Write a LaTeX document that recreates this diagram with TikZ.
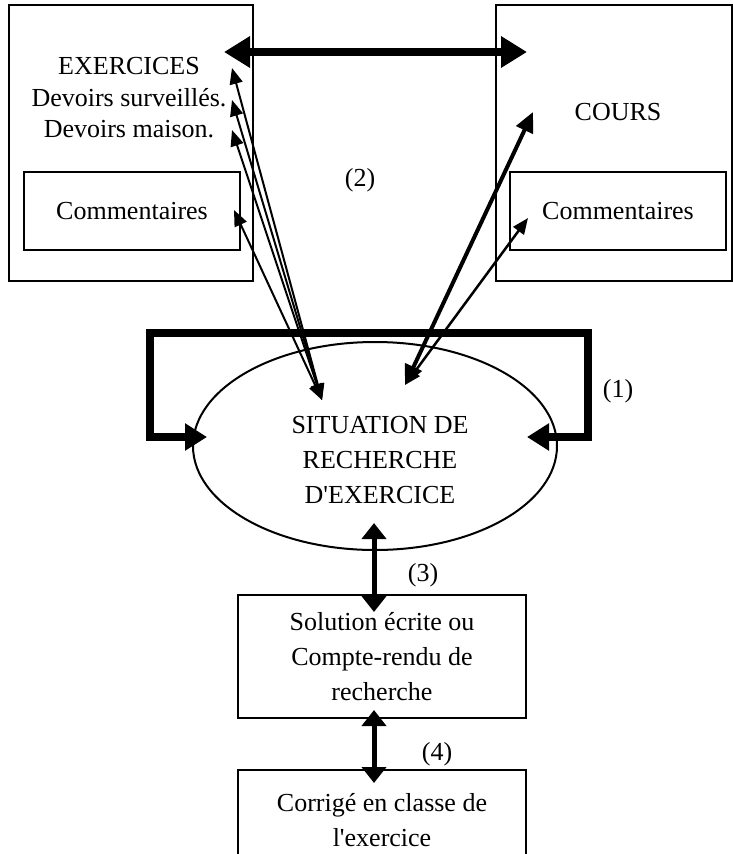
\documentclass[tikz,border=0pt]{standalone}
\usepackage{fontspec}
\setmainfont{Liberation Serif}[Ligatures=TeXOff]
\usetikzlibrary{arrows.meta,shapes.geometric}

\tikzset{
  box/.style={draw, line width=1.6pt, inner sep=0pt},
  txt/.style={font={\fontsize{26}{35}\selectfont}, inner sep=0pt, align=center},
  thinarrow/.style={line width=2pt, {Triangle[length=16pt,width=13pt]}-{Triangle[length=16pt,width=13pt]}},
  cursarrow/.style={line width=4pt, {Triangle[length=20pt,width=18pt]}-{Triangle[length=20pt,width=18pt]}},
  bigarrow/.style={line width=8pt, {Triangle[length=26pt,width=30pt]}-{Triangle[length=26pt,width=30pt]}},
  looparrow/.style={line width=8pt, line join=miter, {Triangle[length=22pt,width=26pt]}-{Triangle[length=22pt,width=26pt]}},
  vertarrow/.style={line width=5pt, {Triangle[length=16pt,width=24pt]}-{Triangle[length=16pt,width=24pt]}}
}

\begin{document}
\begin{tikzpicture}[x=1pt, y=-1pt]
    \useasboundingbox (0,0) rectangle (733,854);

    % Exercices block
    \node[box, minimum width=244pt, minimum height=276pt] (exbox) at (131,143) {};
    \node[txt, font={\fontsize{26}{31.5}\selectfont}] (exlabel) at (129,98) {EXERCICES\\Devoirs surveillés.\\Devoirs maison.};
    \node[box, txt, minimum width=216pt, minimum height=78pt] (excomm) at (132,211) {Commentaires};

    % Cours block
    \node[box, minimum width=236pt, minimum height=276pt] (coursbox) at (614,143) {};
    \node[txt] (courslabel) at (618,112) {COURS};
    \node[box, txt, minimum width=216pt, minimum height=78pt] (courscomm) at (618,211) {Commentaires};

    % Central situation
    \node[draw, line width=2pt, ellipse, minimum width=364pt, minimum height=208pt, inner sep=0pt] (sit) at (375,446) {};
    \node[txt] (sitlabel) at (380,460) {SITUATION DE\\RECHERCHE\\D'EXERCICE};

    % Lower boxes
    \node[box, txt, minimum width=288pt, minimum height=123pt] (sol) at (382,656.5) {Solution écrite ou\\Compte-rendu de\\recherche};
    \node[box, txt, minimum width=288pt, minimum height=100pt, anchor=north] (corr) at (382,769) {Corrigé en classe de\\l'exercice};

    % Labels
    \node[txt] (lab1) at (618,391) {(1)};
    \node[txt] (lab2) at (360,180) {(2)};
    \node[txt] (lab3) at (423,575) {(3)};
    \node[txt] (lab4) at (437,754) {(4)};

    % Arrow ends
    \coordinate (exhub) at (322,400);
    \coordinate (courshub) at (405,385);
    \coordinate (tipex) at (232,68);
    \coordinate (tipds) at (232,100);
    \coordinate (tipdm) at (232,130);
    \coordinate (tipcomm) at (234,210);
    \coordinate (tipcours) at (533,112);
    \coordinate (tipcourscomm) at (528,218);
    \coordinate (topL) at (224,52);
    \coordinate (topR) at (527,52);
    \coordinate (loopL) at (207,437);
    \coordinate (loopR) at (527,437);
    \coordinate (cornerL) at (150,333);
    \coordinate (cornerR) at (588,333);
    \coordinate (sitdown) at (374,523);
    \coordinate (soltop) at (374,612);
    \coordinate (solbot) at (374,710);
    \coordinate (corrtop) at (374,783);

    % Connectors
    \draw[bigarrow] (topL) -- (topR);
    \foreach \t in {tipex, tipds, tipdm, tipcomm} {
        \draw[thinarrow] (exhub) -- (\t);
    }
    \draw[cursarrow] (courshub) -- (tipcours);
    \draw[thinarrow, line width=2.5pt] (courshub) -- (tipcourscomm);
    \draw[looparrow] (loopL) -| (cornerL) -- (cornerR) |- (loopR);
    \draw[vertarrow] (sitdown) -- (soltop);
    \draw[vertarrow] (solbot) -- (corrtop);
\end{tikzpicture}
\end{document}
